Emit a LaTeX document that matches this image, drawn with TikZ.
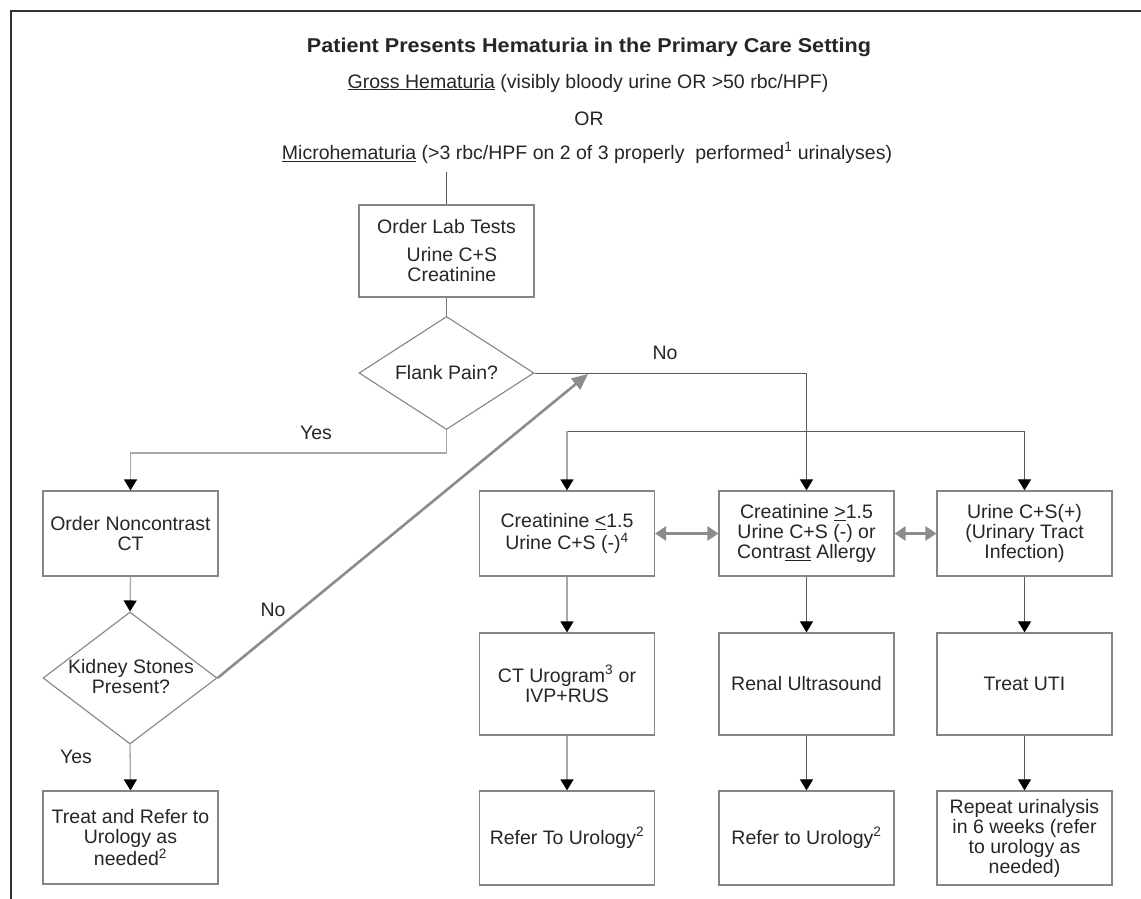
\documentclass[tikz,border=0pt]{standalone}
\usepackage{fontspec}
\setmainfont{Liberation Sans}
\usetikzlibrary{shapes.geometric,arrows.meta}
\definecolor{boxgray}{HTML}{858585}
\definecolor{lightline}{HTML}{A8A8A8}
\definecolor{darkline}{HTML}{5A5A5A}
\definecolor{midline}{HTML}{7A7A7A}
\definecolor{thickgray}{HTML}{8C8C8C}
\definecolor{inkgray}{HTML}{262626}
\tikzset{
  every node/.style={font=\fontsize{19.5}{20}\selectfont, inner sep=0pt, text=inkgray},
  stepbox/.style={draw=boxgray, line width=1.2pt, rectangle, minimum width=175pt, align=center},
  decision/.style={draw=boxgray, line width=1.1pt, diamond},
  plainline/.style={draw=darkline, line width=1pt},
  lightarrow/.style={draw=lightline, line width=1.3pt, -{Triangle[length=11pt,width=13pt,color=black]}},
  darkarrow/.style={draw=darkline, line width=1pt, -{Triangle[length=11pt,width=13pt,color=black]}},
  twoway/.style={draw=thickgray, line width=3.5pt, {Triangle[length=11pt,width=14pt]}-{Triangle[length=11pt,width=14pt]}},
  headtext/.style={align=center}
}
\begin{document}
\begin{tikzpicture}[x=1pt,y=-1pt]
\useasboundingbox (0,0) rectangle (1141,899);
\fill[white] (0,0) rectangle (1141,899);
% frame
\draw[line width=2pt, color=black!80] (11,899) -- (11,11) -- (1141,11);

% header
\node[headtext] (title) at (589,47) {\scalebox{1.08}[1]{\fontsize{20}{22}\selectfont\bfseries Patient Presents Hematuria in the Primary Care Setting}};
\node[headtext] (gross) at (588,83) {\underline{Gross Hematuria} (visibly bloody urine OR {>}50 rbc/HPF)};
\node[headtext] (ortext) at (589,119) {OR};
\node[headtext] (micro) at (587,153) {\underline{Microhematuria} ({>}3 rbc/HPF on 2 of 3 properly\ \ performed\textsuperscript{1} urinalyses)};
\coordinate (topline) at (446.5,172);

% left column
\node[stepbox, minimum height=92pt] (lab) at (446.5,251) {Order Lab Tests\\[8pt]\ \ Urine C+S\\\ \ Creatinine};
\node[decision, minimum width=175pt, minimum height=113pt] (flank) at (446.5,373) {};
\node (flanktext) at (flank.center) {Flank Pain?};
\node[stepbox, minimum height=85pt] (nct) at (130.5,533.5) {Order Noncontrast\\CT};
\node[decision, minimum width=174pt, minimum height=132pt] (kid) at (130,678) {};
\node[align=center] (kidtext) at (131,677) {Kidney Stones\\Present?};
\node[stepbox, minimum height=93pt] (treat) at (130.5,837.5) {Treat and Refer to\\Urology as\\needed\textsuperscript{2}};

% right columns
\node[stepbox, minimum height=85pt] (A) at (567,533.5) {Creatinine \underline{<}1.5\\[2pt]Urine C+S (-)\textsuperscript{4}};
\node[stepbox, minimum height=85pt] (B) at (806.5,533.5) {Creatinine \underline{>}1.5\\Urine C+S (-) or\\Contr\underline{ast} Allergy};
\node[stepbox, minimum height=85pt] (C) at (1024.5,533.5) {Urine C+S(+)\\(Urinary Tract\\Infection)};

\node[stepbox, minimum height=102pt] (A2) at (567,684) {CT Urogram\textsuperscript{3} or\\IVP+RUS};
\node[stepbox, minimum height=102pt] (B2) at (806.5,684) {Renal Ultrasound};
\node[stepbox, minimum height=102pt] (C2) at (1024.5,684) {Treat UTI};

\node[stepbox, minimum height=94pt] (A3) at (567,838) {Refer To Urology\textsuperscript{2}};
\node[stepbox, minimum height=94pt] (B3) at (806.5,838) {Refer to Urology\textsuperscript{2}};
\node[stepbox, minimum height=94pt] (C3) at (1024.5,838) {Repeat urinalysis\\in 6 weeks (refer\\to urology as\\needed)};

% labels
\node (no1) at (665,353) {No};
\node (yes1) at (316,433) {Yes};
\node (no2) at (273,610) {No};
\node (yes2) at (76,757) {Yes};

% connectors
\draw[plainline] (topline) -- (lab.north);
\draw[draw=midline, line width=1pt] (lab.south) -- (flank.north);
\draw[darkarrow] (flank.east) -| (B.north);
\draw[lightarrow] (flank.south) -- ++(0,23) -| (nct.north);
\draw[lightarrow] (nct.south) -- (kid.north);
\draw[lightarrow] (kid.south) -- (treat.north);
\coordinate (noend) at (588,374);
\draw[draw=thickgray, line width=2.6pt, -{Triangle[length=16pt,width=14pt]}] (kid.east) -- (noend);

\coordinate (splitl) at (567,431);
\coordinate (splitr) at (1024.5,431);
\draw[plainline] (splitl) -- (splitr);
\draw[lightarrow] (splitl) -- (A.north);
\draw[darkarrow] (splitr) -- (C.north);

\draw[twoway] (A.east) -- (B.west);
\draw[twoway] (B.east) -- (C.west);

\draw[lightarrow] (A.south) -- (A2.north);
\draw[lightarrow] (A2.south) -- (A3.north);
\draw[darkarrow] (B.south) -- (B2.north);
\draw[darkarrow] (B2.south) -- (B3.north);
\draw[darkarrow] (C.south) -- (C2.north);
\draw[darkarrow] (C2.south) -- (C3.north);
\end{tikzpicture}
\end{document}
